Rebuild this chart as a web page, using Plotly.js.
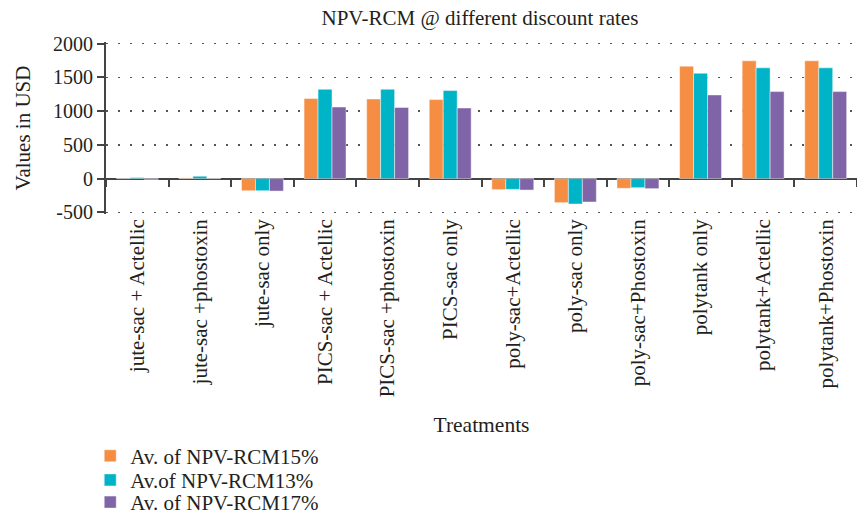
<!DOCTYPE html>
<html><head><meta charset="utf-8">
<script src="https://cdn.plot.ly/plotly-3.0.1.min.js"></script>
<style>html,body{margin:0;padding:0;background:#fff}#c{width:857px;height:515px}</style>
</head><body><div id="c"></div>
<script>
const categories = ["jute-sac + Actellic","jute-sac +phostoxin","jute-sac only","PICS-sac + Actellic","PICS-sac +phostoxin","PICS-sac only","poly-sac+Actellic","poly-sac only","poly-sac+Phostoxin","polytank only","polytank+Actellic","polytank+Phostoxin"];
const npv15 = [0, 10, -180, 1186, 1180, 1171, -164, -357, -144, 1667, 1746, 1746];
const npv13 = [15, 35, -180, 1324, 1324, 1305, -160, -377, -135, 1562, 1642, 1642];
const npv17 = [-12, 0, -185, 1061, 1055, 1046, -170, -347, -149, 1240, 1290, 1290];
const seriesNames = ["Av. of NPV-RCM15%", "Av.of NPV-RCM13%", "Av. of NPV-RCM17%"];
const yTickVals = [-500, 0, 500, 1000, 1500, 2000];
const yTickText = ["-500", "0", "500", "1000", "1500", "2000"];

const font = "Liberation Serif, DejaVu Serif, serif";
const ink = "#231f20";
function bar(name, y, color, leg){
  return {type:"bar", name:name, x:categories, y:y, legend:leg,
    marker:{color:color, line:{color:"rgba(255,255,255,0.45)", width:1}}};
}
const data = [
  bar(seriesNames[0], npv15, "#F58D42", "legend"),
  bar(seriesNames[1], npv13, "#00B4C8", "legend2"),
  bar(seriesNames[2], npv17, "#8064A8", "legend3"),
  {type:"scatter", x:categories, y:categories.map(()=>null), xaxis:"x2", showlegend:false, hoverinfo:"skip"}
];
const legFont = {family:font, size:21, color:ink};
function leg(y){ return {x:-0.021, xanchor:"left", y:y, yanchor:"middle", font:legFont, itemwidth:30, bgcolor:"rgba(0,0,0,0)"}; }
const layout = {
  width:857, height:515,
  margin:{l:106, r:0, t:42.32, b:301.32, autoexpand:false},
  paper_bgcolor:"#fff", plot_bgcolor:"#fff",
  font:{family:font, size:20, color:ink},
  title:{text:"NPV-RCM @ different discount rates", x:0.56, xanchor:"center", y:0.966, yanchor:"middle", font:{family:font, size:21, color:ink}},
  barmode:"group", bargap:0.33, bargroupgap:0,
  showlegend:true,
  legend:leg(-1.408), legend2:leg(-1.548), legend3:leg(-1.677),
  xaxis:{type:"category", categoryarray:categories, categoryorder:"array", range:[-0.5, 11.5],
    tickangle:-90, showgrid:false, showline:false, ticks:"", zeroline:false, automargin:false,
    tickfont:{family:font, size:21, color:ink},
    title:{text:"Treatments", font:{family:font, size:21.5, color:ink}, standoff:20}},
  xaxis2:{type:"category", categoryarray:categories, categoryorder:"array", range:[-0.5, 11.5],
    overlaying:"x", anchor:"free", position:0.20588, side:"bottom", automargin:false,
    showticklabels:false, ticks:"outside", ticklen:7, tickwidth:2, tickcolor:"#444", tickson:"boundaries",
    showgrid:false, showline:false, zeroline:false},
  yaxis:{range:[-525, 2025], tickmode:"array", tickvals:yTickVals, ticktext:yTickText, automargin:false,
    showline:true, linecolor:"#444", linewidth:2, ticks:"outside", ticklen:7, tickwidth:2, tickcolor:"#444",
    showgrid:true, gridcolor:"#555", griddash:"2px,10px", gridwidth:1.5,
    zeroline:true, zerolinecolor:"#444", zerolinewidth:2,
    tickfont:{family:font, size:20, color:ink},
    title:{text:"Values in USD", font:{family:font, size:21, color:ink}, standoff:17}}
};
Plotly.newPlot("c", data, layout, {displayModeBar:false, staticPlot:true});
</script></body></html>
